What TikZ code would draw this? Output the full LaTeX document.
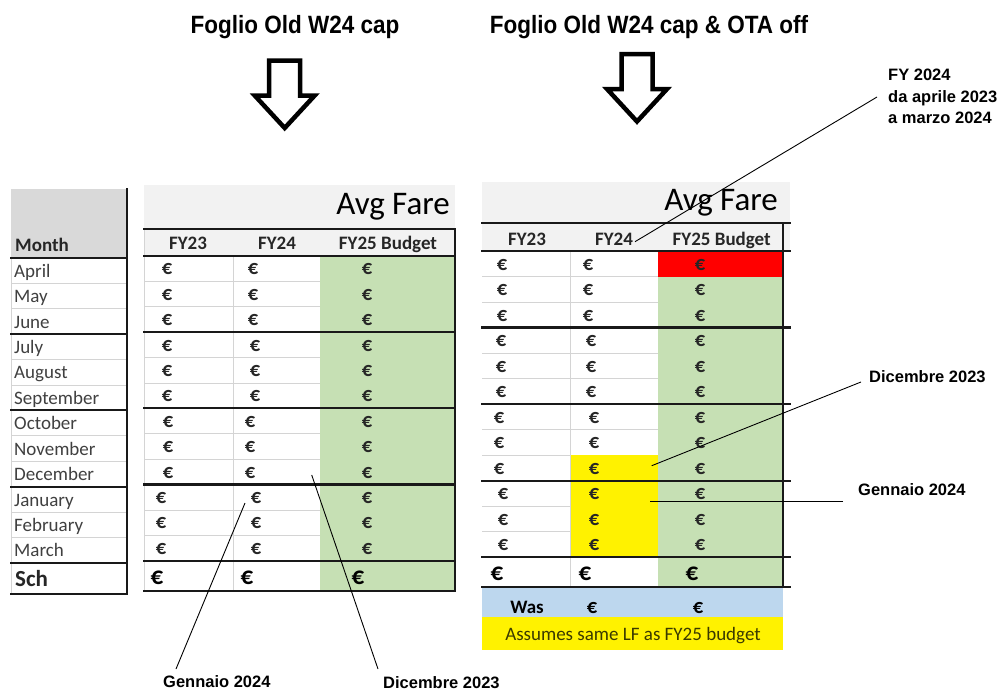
\documentclass[tikz,border=0pt]{standalone}
\usepackage{fontspec}
\setmainfont{Carlito}
\newfontfamily\arialf{Liberation Sans}
\definecolor{gfill}{HTML}{C6E0B4}
\definecolor{hgrey}{HTML}{F2F2F2}
\definecolor{mgrey}{HTML}{D9D9D9}
\definecolor{gridc}{HTML}{D4D4D4}
\definecolor{monthc}{HTML}{404040}
\definecolor{eurc}{HTML}{262626}
\definecolor{wasblue}{HTML}{BDD7EE}
\definecolor{olivetxt}{HTML}{3A3A00}
\begin{document}
\begin{tikzpicture}[x=1pt,y=-1pt,
  thickline/.style={line width=2.2pt, draw=black!90, line cap=rect},
  gridline/.style={line width=0.8pt, draw=gridc},
  monthtxt/.style={anchor=base west, inner sep=0pt, text=monthc, font=\fontsize{19}{22}\selectfont},
  eur/.style={anchor=base, inner sep=0pt, text=eurc, font=\bfseries\fontsize{20.5}{22}\selectfont},
  eurbig/.style={anchor=base, inner sep=0pt, text=black, font=\bfseries\fontsize{25}{28}\selectfont},
  hdr/.style={anchor=base, inner sep=0pt, text=eurc, font=\bfseries\fontsize{19}{22}\selectfont},
  avg/.style={anchor=east, inner sep=0pt, text=black, font=\fontsize{33}{36}\selectfont},
  ttl/.style={inner sep=0pt, text=black, font=\arialf\bfseries\fontsize{25}{30}\selectfont},
  annot/.style={anchor=west, inner sep=0pt, text=black, align=left, font=\arialf\bfseries\fontsize{16.5}{21.6}\selectfont},
  lead/.style={line width=0.9pt, draw=black},
  arrowshape/.style={line width=4.5pt, line join=miter, draw=black, fill=white},
  downarrow/.pic={\draw[arrowshape] (-15.5,0) -- (15.5,0) -- (15.5,35) -- (30,35) -- (0,67.5) -- (-30,35) -- (-15.5,35) -- cycle;}
]
\useasboundingbox[fill=white] (0,0) rectangle (1006,691);

% ---------- titles and arrows ----------
\node[ttl] (t1) at (295,27) {\scalebox{0.9}[1]{Foglio Old W24 cap}};
\node[ttl] (t2) at (649,27) {\scalebox{0.9}[1]{Foglio Old W24 cap \& OTA off}};
\pic at (284.7,60.5) {downarrow};
\pic at (637,54) {downarrow};

% ---------- Month column ----------
\fill[mgrey] (11,189) rectangle (127,257.7);
\node[hdr, anchor=base west] (mhdr) at (15,251) {Month};
\foreach \m [count=\i from 0] in {April,May,June,July,August,September,October,November,December,January,February,March}
  \node[monthtxt] (m\i) at (14,{257.7+(\i+1)*25.44-6}) {\m};
\node[anchor=base west, inner sep=0pt, text=eurc, font=\bfseries\fontsize{23}{26}\selectfont] (msch) at (15,586) {Sch};
\foreach \i in {1,2,4,5,7,8,10,11}
  \draw[gridline] (11,{257.7+\i*25.44}) -- (127,{257.7+\i*25.44});
\draw[gridline] (11,257.7) -- (11,594);
\foreach \i in {0,3,6,9,12}
  \draw[thickline] (11,{257.7+\i*25.44}) -- (127,{257.7+\i*25.44});
\draw[thickline] (11,594) -- (127,594);
\draw[thickline] (127,189) -- (127,594);

% ---------- Left Avg Fare table ----------
\fill[hgrey] (144,185) rectangle (455,256);
\fill[gfill] (320,256) rectangle (455,591);
\node[avg] (lavg) at (450,206.7) {Avg Fare};
\node[hdr] (lh1) at (188,249) {FY23};
\node[hdr] (lh2) at (277,249) {FY24};
\node[hdr] (lh3) at (388,249) {FY25 Budget};
\foreach \i in {1,2,4,5,7,8,10,11}
  \draw[gridline] (144,{256+\i*25.39}) -- (320,{256+\i*25.39});
\draw[gridline] (233,256) -- (233,591);
\draw[gridline] (144,229) -- (144,591);
\foreach \g/\xa/\xb in {0/167/253,1/167/255,2/168/250,3/161/256}
  \foreach \k in {0,1,2} {
    \pgfmathtruncatemacro{\r}{3*\g+\k}
    \node[eur] (la\r) at (\xa,{256+(\r+1)*25.39-6.5}) {€};
    \node[eur] (lb\r) at (\xb,{256+(\r+1)*25.39-6.5}) {€};
    \node[eur] (lc\r) at (367,{256+(\r+1)*25.39-6.5}) {€};
  }
\node[eurbig] (lsa) at (157,584) {€};
\node[eurbig] (lsb) at (247,584) {€};
\node[eurbig] (lsc) at (358,584) {€};
\draw[thickline] (144,229) -- (455,229);
\foreach \i in {0,3,6,9,12}
  \draw[thickline] (144,{256+\i*25.39}) -- (455,{256+\i*25.39});
\draw[thickline] (144,591) -- (455,591);
\draw[thickline] (455,229) -- (455,591);

% ---------- Right Avg Fare table ----------
\fill[hgrey] (482,182) rectangle (790,251);
\fill[red] (658,251) rectangle (783,276.5);
\fill[gfill] (658,276.5) rectangle (783,587);
\fill[yellow] (571,455) rectangle (658,557);
\fill[wasblue] (482,587) rectangle (783,617);
\fill[yellow] (482,617) rectangle (783,650);
\node[avg] (ravg) at (778,203) {Avg Fare};
\node[hdr] (rh1) at (527,245) {FY23};
\node[hdr] (rh2) at (614,245) {FY24};
\node[hdr] (rh3) at (721.7,245) {FY25 Budget};
\foreach \i in {1,2,4,5,7,8,10,11}
  \draw[gridline] (482,{251+\i*25.52}) -- (571,{251+\i*25.52});
\foreach \i in {1,2,4,5,7}
  \draw[gridline] (571,{251+\i*25.52}) -- (658,{251+\i*25.52});
\draw[gridline] (570.7,251) -- (570.7,587);
\foreach \g/\xa/\xb in {0/502/588,1/501/591,2/499/594,3/503/594}
  \foreach \k in {0,1,2} {
    \pgfmathtruncatemacro{\r}{3*\g+\k}
    \node[eur] (ra\r) at (\xa,{251+(\r+1)*25.52-6.5}) {€};
    \node[eur] (rb\r) at (\xb,{251+(\r+1)*25.52-6.5}) {€};
    \node[eur] (rc\r) at (700,{251+(\r+1)*25.52-6.5}) {€};
  }
\node[eurbig] (rsa) at (497,580) {€};
\node[eurbig] (rsb) at (585,580) {€};
\node[eurbig] (rsc) at (692,580) {€};
\node[hdr, text=black] (was) at (527,613) {Was};
\node[hdr, text=black, font=\bfseries\fontsize{20.5}{22}\selectfont] (wasb) at (592,613) {€};
\node[hdr, text=black, font=\bfseries\fontsize{20.5}{22}\selectfont] (wasc) at (698,613) {€};
\node[inner sep=0pt, text=olivetxt, font=\fontsize{19}{22}\selectfont] (assume) at (633,636) {Assumes same LF as FY25 budget};
\draw[thickline] (482,223) -- (790,223);
\foreach \i in {0,3,6,9,12}
  \draw[thickline] (482,{251+\i*25.52}) -- (790,{251+\i*25.52});
\draw[thickline] (482,587) -- (790,587);
\draw[thickline] (783,223) -- (783,587);

% ---------- annotations ----------
\node[annot] (afy) at (888,96.7) {FY 2024\\da aprile 2023\\a marzo 2024};
\node[annot] (adr) at (869,377) {Dicembre 2023};
\node[annot] (agr) at (858,490) {Gennaio 2024};
\node[annot] (agl) at (163,681.5) {Gennaio 2024};
\node[annot] (adl) at (383,682.5) {Dicembre 2023};

\coordinate (fyS) at (877,97);   \coordinate (fyE) at (635,241.7);
\coordinate (drS) at (861,382);  \coordinate (drE) at (651.7,465.7);
\coordinate (grS) at (843,501);  \coordinate (grE) at (650,501);
\coordinate (glS) at (176,669);  \coordinate (glE) at (245,503);
\coordinate (dlS) at (378,669);  \coordinate (dlE) at (311.7,475);
\draw[lead] (fyS) -- (fyE);
\draw[lead] (drS) -- (drE);
\draw[lead] (grS) -- (grE);
\draw[lead] (glS) -- (glE);
\draw[lead] (dlS) -- (dlE);
\end{tikzpicture}
\end{document}
